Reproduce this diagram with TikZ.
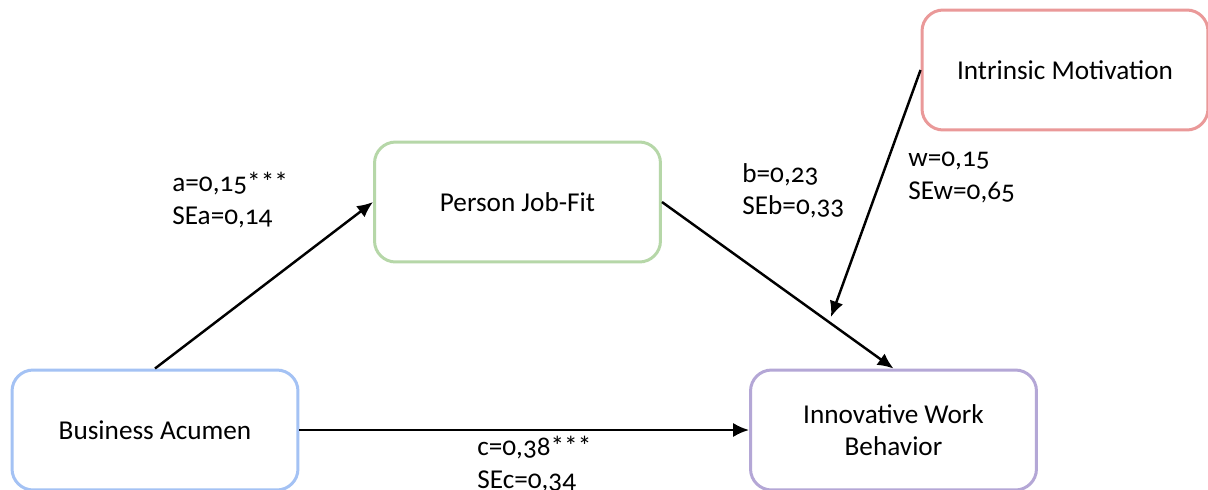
\documentclass[tikz,border=0pt]{standalone}
\usepackage{fontspec}
\setmainfont[Numbers=OldStyle]{Carlito}
\usetikzlibrary{arrows.meta}

\definecolor{boxblue}{RGB}{164,194,244}
\definecolor{boxgreen}{RGB}{182,215,168}
\definecolor{boxred}{RGB}{234,153,153}
\definecolor{boxpurple}{RGB}{180,167,214}

\begin{document}
\begin{tikzpicture}[
    x=0.02cm, y=-0.02cm,
    % === STYLES ===
    font=\fontsize{15.5}{18.5}\selectfont,
    var box/.style={draw, line width=1.7pt, rounded corners=12pt, fill=white,
        minimum width=5.72cm, minimum height=2.4cm, align=center},
    path arrow/.style={line width=1.4pt, -{Latex[length=9pt,width=8pt]}},
    coef/.style={anchor=north west, inner sep=0pt, align=left},
]
    % === CANVAS ===
    \clip (0,0) rectangle (1208,490);
    \fill[white] (0,0) rectangle (1208,490);

    % === VARIABLES ===
    \node[var box, draw=boxblue]   (acumen)  at (155,430)  {Business Acumen};
    \node[var box, draw=boxgreen]  (fit)     at (517.5,202) {Person Job-Fit};
    \node[var box, draw=boxred]    (motive)  at (1065,70)  {Intrinsic Motivation};
    \node[var box, draw=boxpurple] (behave)  at (893.5,430) {Innovative Work\\Behavior};

    % end of the moderator arrow, on path b
    \coordinate (modpt) at (831,317);

    % === PATHS ===
    \draw[path arrow] (acumen.north) -- (fit.west);
    \draw[path arrow] (fit.east) -- (behave.north);
    \draw[path arrow] (motive.west) -- (modpt);
    \draw[path arrow] (acumen.east) -- (behave.west);

    % === COEFFICIENTS ===
    \node[coef] (coefa) at (172,172) {a=0,15***\\SEa=0,14};
    \node[coef] (coefb) at (742,163) {b=0,23\\SEb=0,33};
    \node[coef] (coefw) at (908,152) {w=0,15\\SEw=0,65};
    \node[coef] (coefc) at (477,436) {c=0,38***\\SEc=0,34};
\end{tikzpicture}
\end{document}
